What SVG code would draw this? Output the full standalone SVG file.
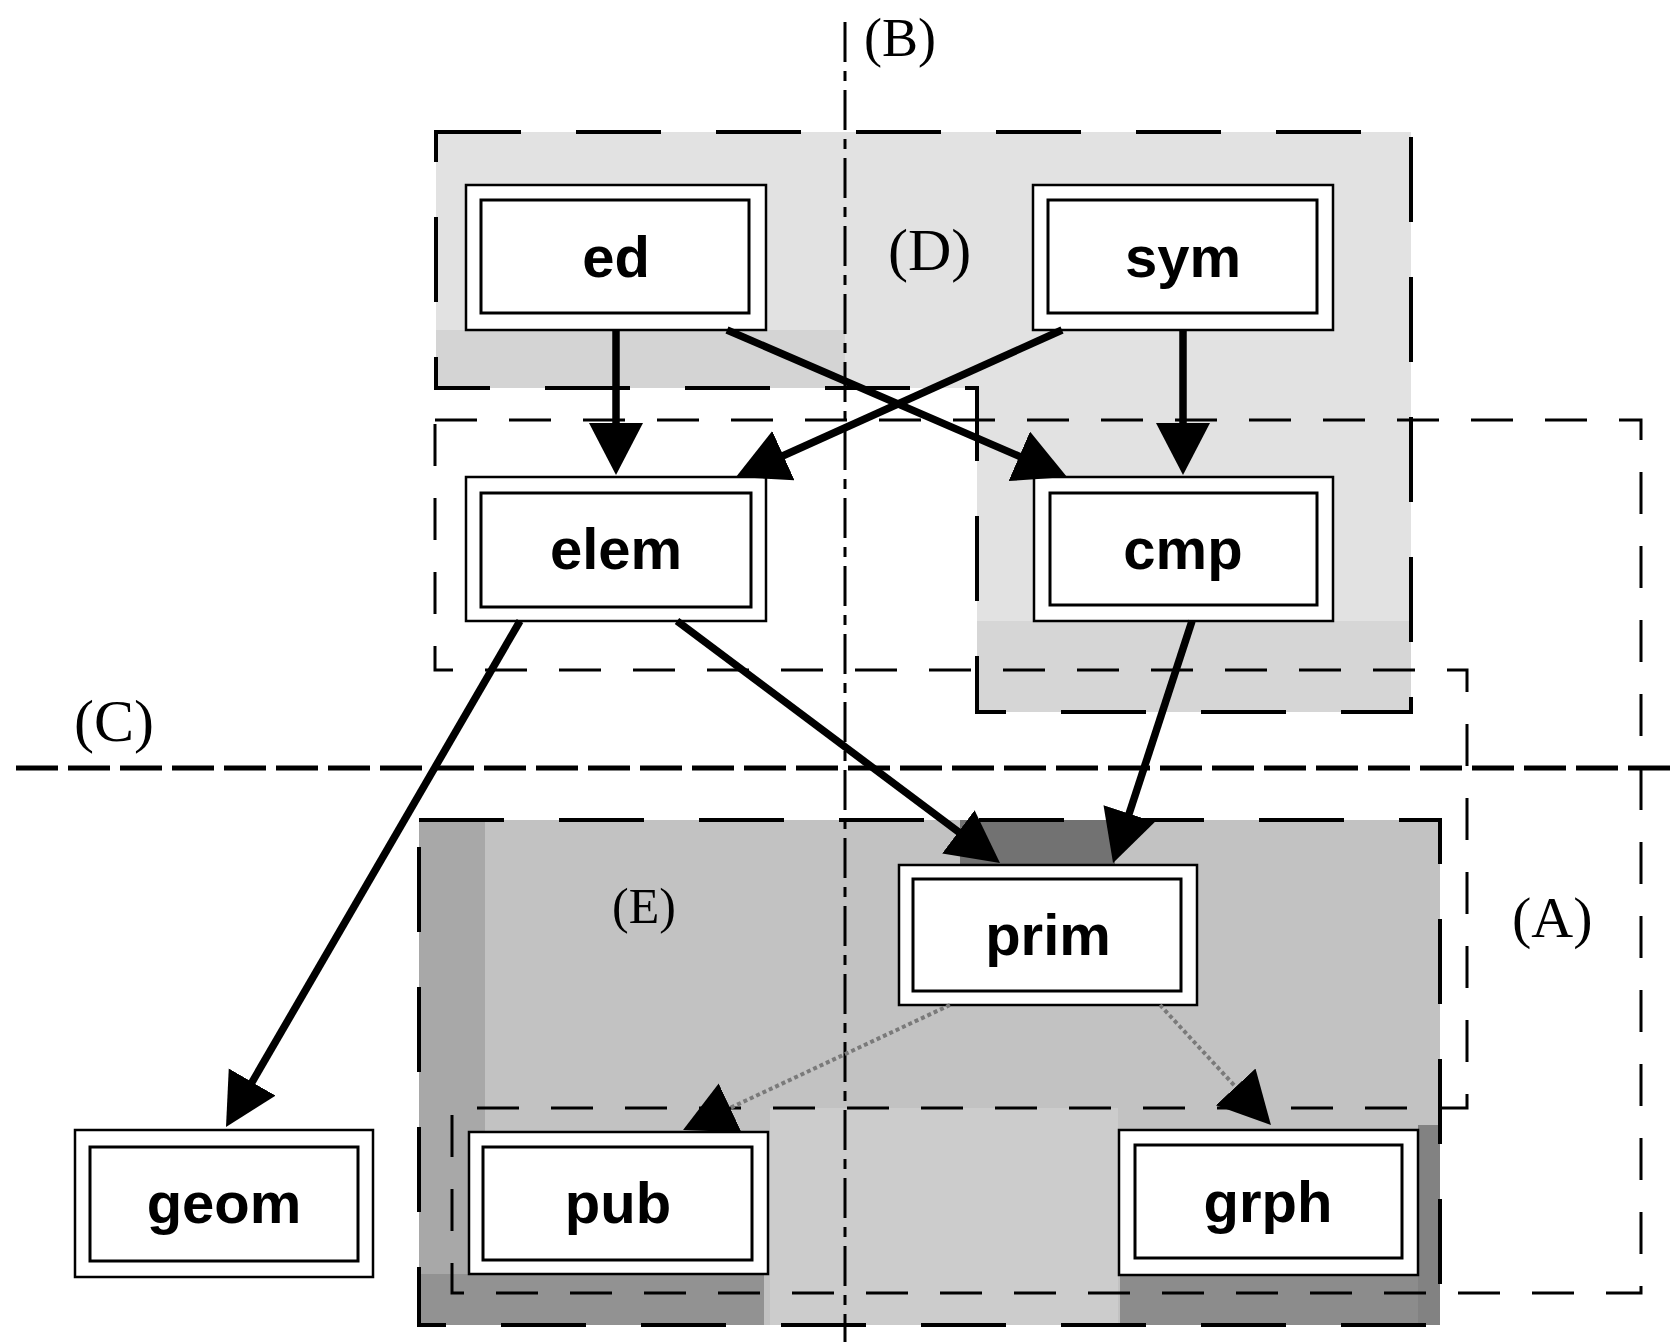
<svg xmlns="http://www.w3.org/2000/svg" width="1677" height="1342" viewBox="0 0 1677 1342">
<style>
.region{fill:none;stroke:#000;stroke-width:4;stroke-dasharray:85 55}
.aline{fill:none;stroke:#000;stroke-width:3;stroke-dasharray:42 32}
.cline{fill:none;stroke:#000;stroke-width:5;stroke-dasharray:42 10}
.bline{fill:none;stroke:#000;stroke-width:3;stroke-dasharray:40 9 10 9}
.lbl{font-family:"Liberation Serif","Times New Roman",serif;fill:#000}
.outer{fill:#fff;stroke:#000;stroke-width:2.5}
.inner{fill:#fff;stroke:#000;stroke-width:3}
.ntext{font-family:"Liberation Sans",Arial,sans-serif;font-weight:bold;font-size:58px;text-anchor:middle;fill:#000}
.edge{fill:none;stroke:#000;stroke-width:7.5}
.dot{fill:none;stroke:#7a7a7a;stroke-width:4;stroke-dasharray:4 3}
</style>
<defs>
<marker id="ah" markerUnits="userSpaceOnUse" markerWidth="54" markerHeight="56" refX="7" refY="27" orient="auto" viewBox="0 0 54 56">
<path d="M0,0 L52,27 L0,54 Z" fill="#000"/>
</marker>
</defs>

<g id="regions">
<g id="region-D">
<polygon points="436,132 1411,132 1411,712 977,712 977,388 436,388" fill="#e2e2e2"/>
<rect x="436" y="330" width="409" height="58" fill="#d4d4d4"/>
<rect x="977" y="621" width="434" height="91" fill="#d6d6d6"/>
<polygon points="436,132 1411,132 1411,712 977,712 977,388 436,388" class="region"/>
</g>
<g id="region-E">
<rect x="419" y="820" width="1021" height="505" fill="#c2c2c2"/>
<rect x="419" y="820" width="66" height="505" fill="#a8a8a8"/>
<rect x="960" y="820" width="155" height="45" fill="#727272"/>
<rect x="419" y="1274" width="345" height="51" fill="#929292"/>
<rect x="1120" y="1274" width="320" height="51" fill="#8c8c8c"/>
<rect x="1418" y="1125" width="22" height="200" fill="#828282"/>
<rect x="770" y="1108" width="348" height="217" fill="#cccccc"/>
<rect x="419" y="820" width="1021" height="505" class="region"/>
</g>
<polygon id="region-A" points="435,420 1641,420 1641,1293 452,1293 452,1108 1467,1108 1467,670 435,670" class="aline"/>
<line id="line-C" x1="16" y1="768" x2="1677" y2="768" class="cline"/>
<line id="line-B" x1="845" y1="22" x2="845" y2="1342" class="bline"/>
<text class="lbl" x="864" y="56" font-size="54">(B)</text>
<text class="lbl" x="888" y="270" font-size="60">(D)</text>
<text class="lbl" x="74" y="741" font-size="60">(C)</text>
<text class="lbl" x="612" y="923" font-size="50" fill="#222">(E)</text>
<text class="lbl" x="1512" y="937" font-size="58">(A)</text>
</g>

<g id="nodes">
<g id="ed"><rect class="outer" x="466" y="185" width="300" height="145"/><rect class="inner" x="481" y="200" width="268" height="113"/><text class="ntext" x="616" y="277">ed</text></g>
<g id="sym"><rect class="outer" x="1033" y="185" width="300" height="145"/><rect class="inner" x="1048" y="200" width="269" height="113"/><text class="ntext" x="1183" y="277">sym</text></g>
<g id="elem"><rect class="outer" x="466" y="477" width="300" height="144"/><rect class="inner" x="481" y="493" width="270" height="114"/><text class="ntext" x="616" y="569">elem</text></g>
<g id="cmp"><rect class="outer" x="1034" y="477" width="299" height="144"/><rect class="inner" x="1050" y="493" width="267" height="112"/><text class="ntext" x="1183" y="569">cmp</text></g>
<g id="prim"><rect class="outer" x="899" y="865" width="298" height="140"/><rect class="inner" x="913" y="879" width="268" height="112"/><text class="ntext" x="1048" y="955">prim</text></g>
<g id="pub"><rect class="outer" x="469" y="1132" width="299" height="142"/><rect class="inner" x="483" y="1147" width="269" height="113"/><text class="ntext" x="618" y="1223">pub</text></g>
<g id="grph"><rect class="outer" x="1119" y="1130" width="299" height="145"/><rect class="inner" x="1135" y="1145" width="267" height="113"/><text class="ntext" x="1268" y="1222">grph</text></g>
<g id="geom"><rect class="outer" x="75" y="1130" width="298" height="147"/><rect class="inner" x="90" y="1147" width="268" height="114"/><text class="ntext" x="224" y="1223">geom</text></g>
</g>

<g id="connectors">
<line class="edge" x1="616" y1="330" x2="616" y2="430" marker-end="url(#ah)"/>
<line class="edge" x1="1183" y1="330" x2="1183" y2="430" marker-end="url(#ah)"/>
<line class="edge" x1="727" y1="330" x2="1025.7" y2="459.1" marker-end="url(#ah)"/>
<line class="edge" x1="1062" y1="330" x2="777" y2="458.5" marker-end="url(#ah)"/>
<line class="edge" x1="520" y1="621" x2="248.6" y2="1088.1" marker-end="url(#ah)"/>
<line class="edge" x1="677" y1="621" x2="964" y2="836" marker-end="url(#ah)"/>
<line class="edge" x1="1192" y1="621" x2="1127" y2="820.2" marker-end="url(#ah)"/>
<line class="dot" x1="950" y1="1005" x2="723.8" y2="1110.9" marker-end="url(#ah)"/>
<line class="dot" x1="1160" y1="1005" x2="1240.4" y2="1092" marker-end="url(#ah)"/>
</g>
</svg>
